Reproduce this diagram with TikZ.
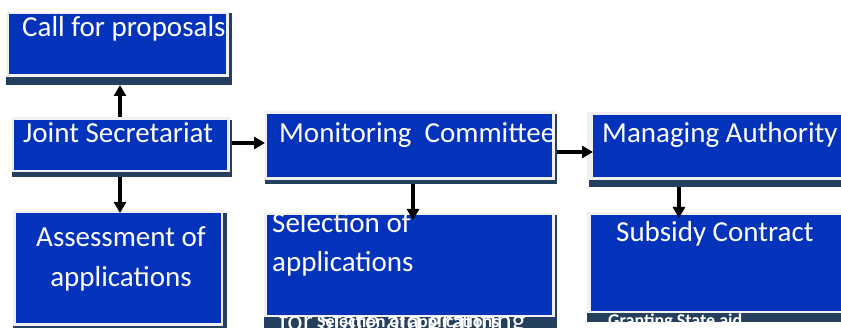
\documentclass[tikz,border=0pt]{standalone}
\usepackage{fontspec}
\setmainfont{Carlito}
\usetikzlibrary{arrows.meta,fit}
\definecolor{boxblue}{RGB}{3,51,187}
\definecolor{framegrey}{RGB}{240,240,240}
\definecolor{shadowc}{RGB}{37,63,95}
\tikzset{
  shadowbox/.style={fill=shadowc, draw=none, inner sep=0pt, outer sep=0pt},
  framebox/.style={fill=framegrey, draw=none, inner sep=0pt, outer sep=0pt},
  bluebox/.style={fill=boxblue, draw=none, inner sep=0pt, outer sep=0pt},
  lbl/.style={text=white, font=\fontsize{29}{35}\selectfont, inner sep=0pt, anchor=base west},
  smalllbl/.style={text=white, font=\fontsize{18}{22}\selectfont\bfseries, inner sep=0pt, anchor=base west},
  arr/.style={line width=3.5pt, -{Triangle[length=11pt,width=12pt]}}
}
\begin{document}
\begin{tikzpicture}[x=1pt,y=-1pt]
\clip (0,0) rectangle (841,328);
\fill[white] (0,0) rectangle (841,328);
% Call for proposals
\node[shadowbox, fit={(6,13)(232,85)}] (cfps) {};
\node[framebox, fit={(6,12)(229,77)}] (cfpf) {};
\node[bluebox, fit={(9,14)(226,74)}] (cfpb) {};
\node[lbl] (cfpt) at (22,37) {Call for proposals};
% Joint Secretariat
\node[shadowbox, fit={(12,120)(232,177)}] (jss) {};
\node[framebox, fit={(12,117)(230,172)}] (jsf) {};
\node[bluebox, fit={(14,120)(227,170)}] (jsb) {};
\node[lbl] (jst) at (23,143) {Joint Secretariat};
% Assessment of applications
\node[shadowbox, fit={(13,213)(227,330)}] (ass) {};
\node[framebox, fit={(13,210)(223,326)}] (asf) {};
\node[bluebox, fit={(16,213)(221,323)}] (asb) {};
\node[lbl, anchor=base] (ast1) at (121,247) {Assessment of};
\node[lbl, anchor=base] (ast2) at (121,287) {applications};
% Monitoring Committee
\node[shadowbox, fit={(265,114)(557,184)}] (mcs) {};
\node[framebox, fit={(265,111)(555,180)}] (mcf) {};
\node[bluebox, fit={(267,114)(552,177)}] (mcb) {};
\begin{scope}
\clip (265,111) rectangle (555,180);
\node[lbl] (mct) at (279,143) {Monitoring\ \ Committee};
\end{scope}
% Managing Authority
\node[shadowbox, fit={(589,115)(860,187)}] (mas) {};
\node[framebox, fit={(587,112)(860,180)}] (maf) {};
\node[bluebox, fit={(593,115)(860,177)}] (mab) {};
\node[lbl] (mat) at (602,143) {Managing Authority};
% Selection of applications
\node[shadowbox, fit={(264,215)(557,335)}] (sls) {};
\node[framebox, fit={(264,213)(555,317)}] (slf) {};
\node[bluebox, fit={(267,215)(552,315)}] (slb) {};
\node[lbl] (slt1) at (272,233) {Selection of};
\node[lbl] (slt2) at (272,272) {applications};
\begin{scope}
\clip (264,317) rectangle (557,328);
\node[lbl] (slt3) at (279,331) {for State aid granting};
\node[smalllbl] (slt4) at (317,328) {Selection of applications};
\end{scope}
% Subsidy Contract
\node[shadowbox, fit={(587,215)(860,322)}] (scs) {};
\node[framebox, fit={(587,212)(860,313)}] (scf) {};
\node[bluebox, fit={(591,215)(860,311)}] (scb) {};
\node[lbl] (sct) at (616,242) {Subsidy Contract};
\begin{scope}
\clip (587,313) rectangle (841,322);
\node[smalllbl] (sct2) at (608,327) {Granting State aid};
\end{scope}
% connectors
\draw[arr] (jsf.north -| 120,0) coordinate (a1) -- (a1 |- cfps.south);
\draw[arr] (jss.south -| 120,0) -- ++(0,36) coordinate (a2);
\draw[arr] (jss.east |- jst.base) -- (mcf.west |- jst.base);
\draw[arr] (mcs.east |- 0,152) -- (mab.west |- 0,152);
\draw[arr] (mcs.south -| 413,0) -- ++(0,36) coordinate (a3);
\draw[arr] (mas.south -| 679,0) -- ++(0,31) coordinate (a4);
\end{tikzpicture}
\end{document}
